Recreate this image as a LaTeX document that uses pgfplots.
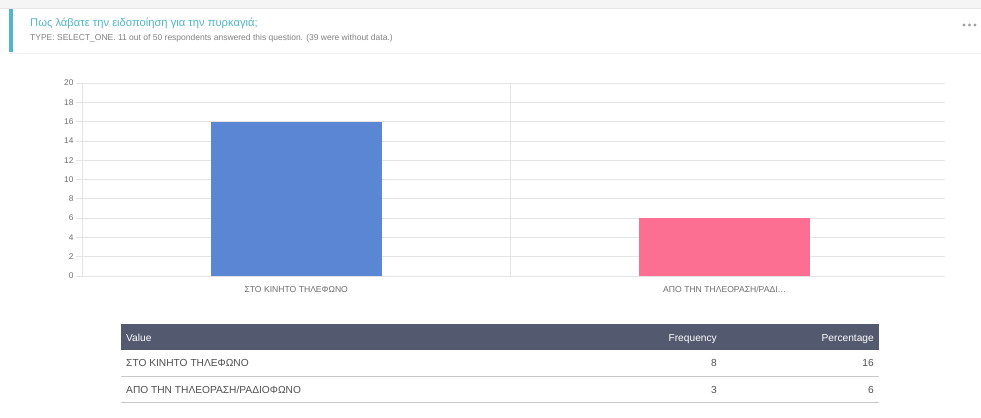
\documentclass[border=0pt]{standalone}
\usepackage{fontspec}
\setmainfont{Liberation Sans}
\usepackage{pgfplots}
\pgfplotsset{compat=1.18}
\definecolor{barblue}{RGB}{91,134,212}
\definecolor{barpink}{RGB}{252,110,146}
\definecolor{gridgray}{RGB}{228,228,230}
\definecolor{ticktext}{RGB}{110,110,110}
\definecolor{teal}{RGB}{82,182,198}
\definecolor{subgray}{RGB}{130,130,130}
\definecolor{headbg}{RGB}{83,90,112}
\definecolor{rowline}{RGB}{200,200,200}
\definecolor{celltext}{RGB}{80,80,80}
\definecolor{topband}{RGB}{245,245,245}
\begin{document}
\begin{tikzpicture}
\path[use as bounding box, fill=white] (0bp,0bp) rectangle (981bp,-418bp);
% card header
\fill[topband] (0bp,0bp) rectangle (981bp,-8bp);
\draw[gray!20, line width=0.8bp] (0bp,-8bp) -- (981bp,-8bp);
\draw[gray!12, line width=0.8bp] (8bp,-53bp) -- (981bp,-53bp);
\fill[teal] (9bp,-9bp) rectangle (12.5bp,-52bp);
\node[anchor=west, inner sep=0pt, text=teal, font=\fontsize{11.2bp}{13bp}\selectfont] at (30bp,-23bp) {Πως λάβατε την ειδοποίηση για την πυρκαγιά;};
\node[anchor=west, inner sep=0pt, text=subgray, font=\fontsize{8.5bp}{10bp}\selectfont] at (30bp,-38bp) {TYPE: SELECT\_ONE. 11 out of 50 respondents answered this question. (39 were without data.)};
\foreach \dx in {964,969.5,975} {\fill[gray!75] (\dx bp,-25bp) circle (1.6bp);}
% chart
\begin{axis}[
  at={(82bp,-276bp)}, anchor=south west,
  scale only axis, width=857bp, height=193bp,
  xmin=0, xmax=2, ymin=0, ymax=20,
  axis line style={draw=none},
  ytick={0,2,4,6,8,10,12,14,16,18,20},
  ymajorgrids, grid style={draw=gridgray, line width=0.7bp},
  ytick style={draw=gridgray, line width=0.7bp},
  tick align=outside, major tick length=6bp,
  y tick label style={text=ticktext, font=\fontsize{8.3bp}{10bp}\selectfont, xshift=1bp},
  /pgf/number format/assume math mode=true,
  xtick={0.5,1.5},
  xticklabels={{ΣΤΟ ΚΙΝΗΤΟ ΤΗΛΕΦΩΝΟ},{ΑΠΟ ΤΗΝ ΤΗΛΕΟΡΑΣΗ/ΡΑΔΙ\ldots}},
  x tick label style={text=ticktext, font=\fontsize{8.6bp}{10bp}\selectfont, yshift=-1bp},
  xtick style={draw=none},
  extra x ticks={0,1},
  extra x tick labels={},
  extra x tick style={xmajorgrids, major tick length=6bp, tick style={draw=gridgray, line width=0.7bp}},
  clip=false,
]
\addplot[ybar, bar width=0.4, bar shift=0pt, fill=barblue, draw=none] coordinates {(0.5,16)};
\addplot[ybar, bar width=0.4, bar shift=0pt, fill=barpink, draw=none] coordinates {(1.5,6)};
\end{axis}
% table
\fill[headbg] (121bp,-324bp) rectangle (879bp,-350bp);
\begin{scope}[every node/.style={inner sep=0pt, font=\fontsize{10.2bp}{12bp}\selectfont}]
\node[anchor=base west, text=white] at (126bp,-341bp) {Value};
\node[anchor=base east, text=white] at (717bp,-341bp) {Frequency};
\node[anchor=base east, text=white] at (874bp,-341bp) {Percentage};
\node[anchor=base west, text=celltext] at (126bp,-366.5bp) {ΣΤΟ ΚΙΝΗΤΟ ΤΗΛΕΦΩΝΟ};
\node[anchor=base east, text=celltext] at (717bp,-366.5bp) {8};
\node[anchor=base east, text=celltext] at (874bp,-366.5bp) {16};
\node[anchor=base west, text=celltext] at (126bp,-393bp) {ΑΠΟ ΤΗΝ ΤΗΛΕΟΡΑΣΗ/ΡΑΔΙΟΦΩΝΟ};
\node[anchor=base east, text=celltext] at (717bp,-393bp) {3};
\node[anchor=base east, text=celltext] at (874bp,-393bp) {6};
\end{scope}
\draw[rowline, line width=0.8bp] (121bp,-376bp) -- (879bp,-376bp);
\draw[rowline, line width=0.8bp] (121bp,-402bp) -- (879bp,-402bp);
\end{tikzpicture}
\end{document}
